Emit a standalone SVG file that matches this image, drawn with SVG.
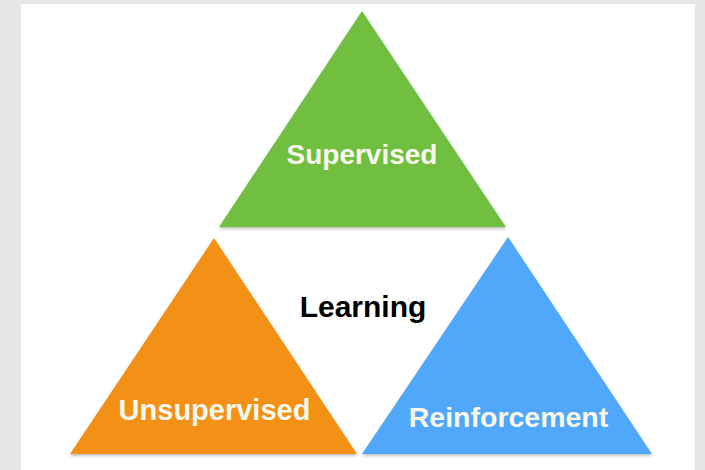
<svg xmlns="http://www.w3.org/2000/svg" width="705" height="470" viewBox="0 0 705 470">
<defs>
<style>
.lbl{font-family:"Liberation Sans",Arial,sans-serif;font-weight:bold;font-size:28px;text-anchor:middle}
.w{fill:#f8f8ec}
.k{fill:#000000}
</style>
<filter id="sh" x="-10%" y="-10%" width="120%" height="130%">
<feDropShadow dx="0" dy="2" stdDeviation="1.5" flood-color="#000" flood-opacity="0.25"/>
</filter>
</defs>
<rect x="0" y="0" width="705" height="470" fill="#e6e6e6"/>
<rect x="21" y="4" width="674" height="466" fill="#ffffff"/>
<g id="supervised">
<polygon points="362,11 506,227 219,227" fill="#70bf41" filter="url(#sh)"/>
<text class="lbl w" x="362" y="164">Supervised</text>
</g>
<g id="unsupervised">
<polygon points="214,238 357,454 70,454" fill="#f39019" filter="url(#sh)"/>
<text class="lbl w" x="214.5" y="420" style="font-size:29px">Unsupervised</text>
</g>
<g id="reinforcement">
<polygon points="508,237 652,454 362,454" fill="#51a7f9" filter="url(#sh)"/>
<text class="lbl w" x="508.5" y="427" style="font-size:28.5px">Reinforcement</text>
</g>
<g id="learning">
<text class="lbl k" x="363" y="317" style="font-size:30px">Learning</text>
</g>
<g id="connectors"/>
</svg>
